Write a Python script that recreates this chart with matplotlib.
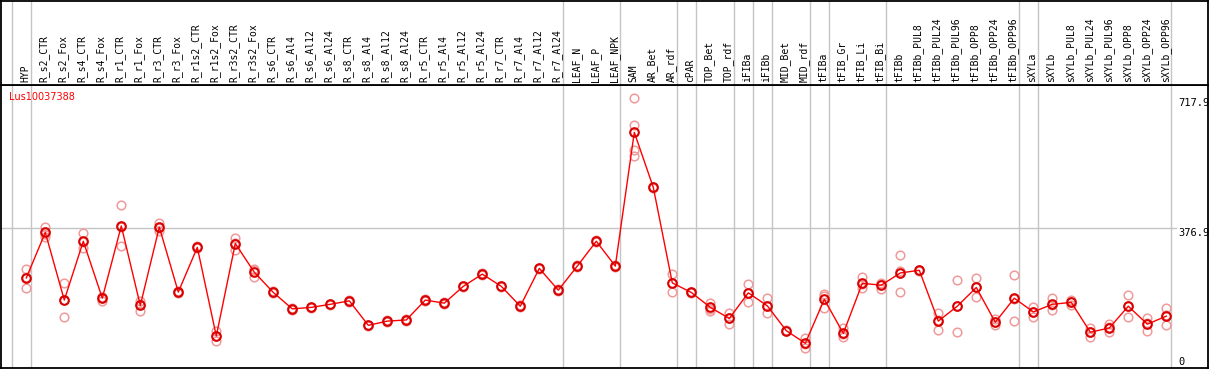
import matplotlib
matplotlib.use("Agg")
import matplotlib.pyplot as plt
import numpy as np

# sample names, in plot order
samples = ["HYP", "R_s2_CTR", "R_s2_Fox", "R_s4_CTR", "R_s4_Fox", "R_r1_CTR",
           "R_r1_Fox", "R_r3_CTR", "R_r3_Fox", "R_r1s2_CTR", "R_r1s2_Fox",
           "R_r3s2_CTR", "R_r3s2_Fox", "R_s6_CTR", "R_s6_Al4", "R_s6_Al12",
           "R_s6_Al24", "R_s8_CTR", "R_s8_Al4", "R_s8_Al12", "R_s8_Al24",
           "R_r5_CTR", "R_r5_Al4", "R_r5_Al12", "R_r5_Al24", "R_r7_CTR",
           "R_r7_Al4", "R_r7_Al12", "R_r7_Al24", "LEAF_N", "LEAF_P", "LEAF_NPK",
           "SAM", "AR_Bet", "AR_rdf", "cPAR", "TOP_Bet", "TOP_rdf", "iFIBa",
           "iFIBb", "MID_Bet", "MID_rdf", "tFIBa", "tFIB_Gr", "tFIB_Li",
           "tFIB_Bi", "tFIBb", "tFIBb_PUL8", "tFIBb_PUL24", "tFIBb_PUL96",
           "tFIBb_OPP8", "tFIBb_OPP24", "tFIBb_OPP96", "sXYLa", "sXYLb",
           "sXYLb_PUL8", "sXYLb_PUL24", "sXYLb_PUL96", "sXYLb_OPP8",
           "sXYLb_OPP24", "sXYLb_OPP96"]

# mean expression per sample
means = [247, 366, 189, 343, 194, 383, 175, 380, 210, 327, 95, 337, 262, 209,
         166, 170, 178, 187, 123, 134, 137, 189, 181, 225, 257, 225, 173, 272,
         215, 278, 343, 278, 628, 484, 234, 209, 170, 141, 208, 174, 109, 76,
         191, 102, 233, 228, 260, 267, 134, 173, 222, 131, 194, 158, 178, 183,
         105, 116, 173, 126, 147]

# replicate values per sample
replicates = [
    [270, 250, 220], [381, 363, 355], [233, 190, 144], [365, 340, 325],
    [198, 197, 187], [438, 381, 331], [187, 178, 161], [392, 377, 371],
    [213, 208], [330, 325], [109, 95, 81], [352, 338, 320], [271, 267, 249],
    [212, 207], [168, 164], [172, 168], [180, 176], [189, 185], [125, 121],
    [136, 132], [139, 135], [191, 187], [183, 179], [227, 223], [259, 255],
    [227, 223], [175, 171], [274, 270], [217, 213], [280, 276], [345, 341],
    [280, 276], [717, 647, 582, 566], [486, 482], [257, 234, 209], [211, 207],
    [182, 167, 161], [156, 142, 126], [231, 208, 184], [194, 174, 155],
    [111, 107], [89, 75, 64], [205, 200, 168], [115, 100, 92],
    [250, 230, 220], [235, 232, 218], [306, 264, 210], [269, 265],
    [155, 138, 110], [241, 173, 105], [246, 223, 198], [139, 131, 123],
    [255, 192, 134], [172, 158, 145], [195, 177, 162], [189, 185, 175],
    [117, 105, 92], [126, 118, 105], [202, 173, 144], [142, 128, 108],
    [168, 150, 123]]

gene = "Lus10037388"
# last sample index of each group (vertical separators)
group_ends = [-1, 0, 28, 31, 34, 35, 37, 38, 39, 41, 42, 45, 52, 53, 60]
ymid, ymax = 376.9, 717.9

W, H = 1209, 370
fig = plt.figure(figsize=(W / 100, H / 100), dpi=100)
ax = fig.add_axes([1 / W, 2 / H, 1207 / W, 283 / H])
hx = fig.add_axes([1 / W, 285 / H, 1207 / W, 84.5 / H], sharex=ax)

x = np.arange(len(samples))
ax.set_xlim((1 - 26.3) / 19, (1208 - 26.3) / 19)
ax.set_ylim(11.3, 751.9)
hx.set_ylim(0, 1)

for a in (ax, hx):
    a.set_xticks([])
    a.set_yticks([])
    for s in a.spines.values():
        s.set_linewidth(1.3)
        s.set_color("black")
    for g in group_ends:
        a.axvline(g + 0.23, color="#c4c4c4", lw=1.0, zorder=0)

# horizontal reference line
ax.plot([ax.get_xlim()[0], 60.5], [ymid, ymid], color="#c4c4c4", lw=1.0, zorder=0)

# replicates
for i, reps in enumerate(replicates):
    ax.plot([i] * len(reps), reps, "o", ms=6.2, mfc="none", mec="#f09a9a",
            mew=1.1, zorder=2)

ax.plot(x, means, "-", color="red", lw=1.0, zorder=3)
ax.plot(x, means, "o", ms=6.2, mfc="none", mec="#d80000", mew=1.5, zorder=4)

# value labels on the right
lx = 60.62
ax.text(lx, ymax, "717.9", fontsize=7.5, family="DejaVu Sans Mono", va="top", ha="left")
ax.text(lx, ymid, "376.9", fontsize=7.5, family="DejaVu Sans Mono", va="top", ha="left")
ax.text(lx, 14, "0", fontsize=7.5, family="DejaVu Sans Mono", va="bottom", ha="left")

fig.text(9.5 / W, 1 - 102.5 / H, gene, color="red", fontsize=7, va="bottom", ha="left")

# sample names
for i, name in enumerate(samples):
    hx.text(i - 0.05, 0.03, name, rotation=90, ha="center", va="bottom",
            fontsize=7, family="DejaVu Sans Mono")

fig.savefig("out.png", dpi=100)
